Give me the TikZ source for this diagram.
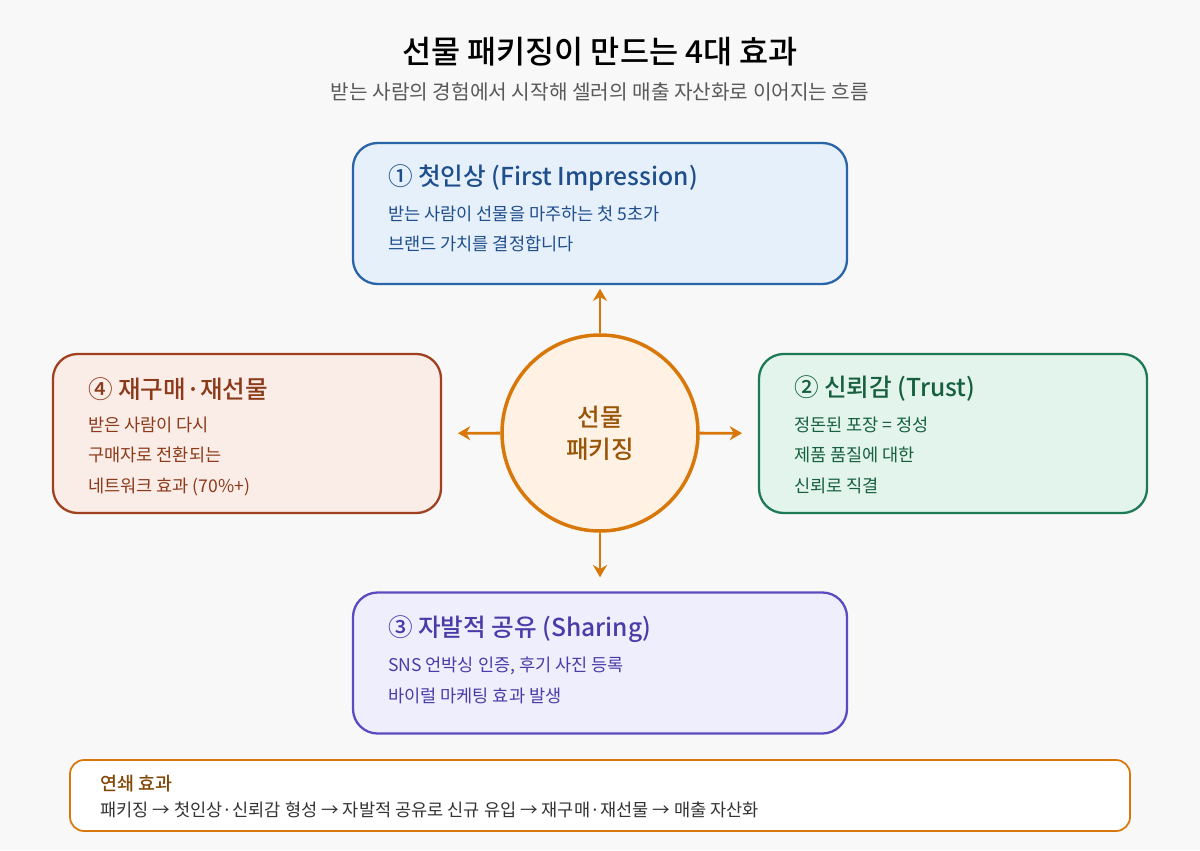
\documentclass[tikz,border=0pt]{standalone}
\usepackage{fontspec}
\setmainfont{Noto Sans CJK KR}
\newfontfamily\medium{Noto Sans CJK KR Medium}
\usetikzlibrary{positioning,arrows.meta}
\definecolor{bgc}{HTML}{F8F8F8}
\definecolor{orng}{HTML}{D9780A}
\definecolor{bluB}{HTML}{2A64A8}\definecolor{bluF}{HTML}{E6F0FA}\definecolor{bluT}{HTML}{1F4E8C}
\definecolor{grnB}{HTML}{1E7A55}\definecolor{grnF}{HTML}{E2F4EC}\definecolor{grnT}{HTML}{17603F}
\definecolor{redB}{HTML}{A0401E}\definecolor{redF}{HTML}{FAECE6}\definecolor{redT}{HTML}{8B3A1A}
\definecolor{purB}{HTML}{5B4BC0}\definecolor{purF}{HTML}{EEEEFC}\definecolor{purT}{HTML}{4A3CA8}
\tikzset{
  card/.style={draw=#1B,fill=#1F,line width=1.3pt,rounded corners=14pt,minimum width=9.88cm,minimum height=2.82cm},
  head/.style={anchor=west,text=#1T,font=\fontsize{14}{16}\selectfont\medium},
  body/.style={anchor=north west,text=#1T,font=\fontsize{10}{17.5}\selectfont,align=left},
  flow/.style={-{Stealth[length=7pt,width=8pt]},draw=orng,line width=1.6pt,shorten >=2pt}
}
\begin{document}
\begin{tikzpicture}
\fill[bgc] (0,0) rectangle (24,-17);
\useasboundingbox (0,0) rectangle (24,-17);
% title
\node (title) at (12,-1.04) {\fontsize{18}{20}\selectfont\medium 선물 패키징이 만드는 4대 효과};
\node[text=black!65] (sub) at (12,-1.84) {\fontsize{11.5}{14}\selectfont 받는 사람의 경험에서 시작해 셀러의 매출 자산화로 이어지는 흐름};
% centre
\node[circle,draw=orng,fill=orange!10,line width=2pt,minimum size=3.92cm,align=center,
  text=orng!70!black,font=\fontsize{14}{18}\selectfont\medium] (gift) at (12,-8.66) {선물\\패키징};
% cards
\node[card=blu] (first) at (12,-4.27) {};
\node[card=grn,minimum width=7.76cm,minimum height=3.18cm] (trust) at (19.06,-8.67) {};
\node[card=red,minimum width=7.76cm,minimum height=3.18cm] (again) at (4.94,-8.67) {};
\node[card=pur] (share) at (12,-13.26) {};
\node[head=blu] at ([xshift=0.6cm,yshift=-0.72cm]first.north west) {① 첫인상 (First Impression)};
\node[body=blu] at ([xshift=0.6cm,yshift=-1.15cm]first.north west) {받는 사람이 선물을 마주하는 첫 5초가\\브랜드 가치를 결정합니다};
\node[head=grn] at ([xshift=0.6cm,yshift=-0.72cm]trust.north west) {② 신뢰감 (Trust)};
\node[body=grn] at ([xshift=0.6cm,yshift=-1.15cm]trust.north west) {정돈된 포장 = 정성\\제품 품질에 대한\\신뢰로 직결};
\node[head=red] at ([xshift=0.6cm,yshift=-0.72cm]again.north west) {④ 재구매·재선물};
\node[body=red] at ([xshift=0.6cm,yshift=-1.15cm]again.north west) {받은 사람이 다시\\구매자로 전환되는\\네트워크 효과 (70\%+)};
\node[head=pur] at ([xshift=0.6cm,yshift=-0.76cm]share.north west) {③ 자발적 공유 (Sharing)};
\node[body=pur] at ([xshift=0.6cm,yshift=-1.19cm]share.north west) {SNS 언박싱 인증, 후기 사진 등록\\바이럴 마케팅 효과 발생};
% arrows
\draw[flow] (gift) -- (first);
\draw[flow,shorten >=9pt] (gift) -- (trust);
\draw[flow,shorten >=9pt] (gift) -- (again);
\draw[flow,shorten >=8pt] (gift) -- (share);
% chain
\node[draw=orng,fill=white,line width=1pt,rounded corners=8pt,minimum width=21.2cm,minimum height=1.42cm] (chain) at (12,-15.91) {};
\node[anchor=west,text=orng!60!black,font=\fontsize{10.5}{12}\selectfont\medium] at ([xshift=0.5cm,yshift=-0.48cm]chain.north west) {연쇄 효과};
\node[anchor=west,text=black!80,font=\fontsize{10}{12}\selectfont] at ([xshift=0.5cm,yshift=-1.02cm]chain.north west) {패키징 → 첫인상·신뢰감 형성 → 자발적 공유로 신규 유입 → 재구매·재선물 → 매출 자산화};
\end{tikzpicture}
\end{document}
